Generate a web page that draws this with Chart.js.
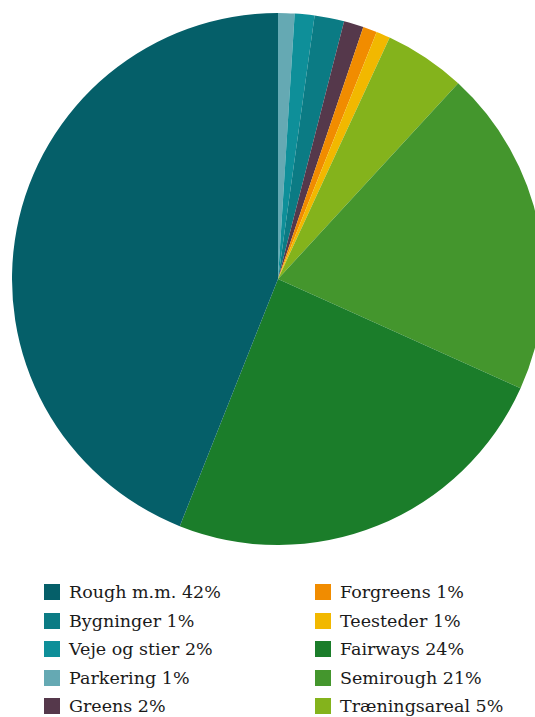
<!DOCTYPE html>
<html lang="da">
<head>
<meta charset="utf-8">
<style>
  html, body { margin: 0; padding: 0; background: #fff; overflow: hidden; width: 535px; height: 717px; }
  #wrap { position: absolute; left: 12px; top: 13px; width: 532px; height: 532px; }
  #legend { position: absolute; left: 44px; top: 578px; display: grid;
            grid-template-columns: 271px 220px; grid-auto-flow: column; grid-template-rows: repeat(5, 28.5px);
            font-family: "DejaVu Serif", serif; font-size: 17.5px; color: #1a1a1a; }
  .item { display: flex; align-items: center; white-space: nowrap; }
  .box { width: 16px; height: 16px; margin-right: 9px; flex: none; }
</style>
</head>
<body>
<div id="wrap"><canvas id="myChart"></canvas></div>
<div id="legend"></div>

<script src="https://cdn.jsdelivr.net/npm/chart.js"></script>
<script>
    // slices, clockwise from 12 o'clock
    var labels = ['Parkering', 'Veje og stier', 'Bygninger', 'Greens', 'Forgreens',
                  'Teesteder', 'Træningsareal', 'Semirough', 'Fairways', 'Rough m.m.'];
    var values = [1.0, 1.2, 1.8, 1.2, 0.85, 0.85, 4.95, 19.9, 24.3, 44.0];
    var colors = ['#65a9b3', '#0e8f99', '#0b7b84', '#55384b', '#f18c00',
                  '#f2b800', '#84b31c', '#44962d', '#1b7d2a', '#055f69'];

    // legend order and printed percentages
    var legendOrder = ['Rough m.m.', 'Bygninger', 'Veje og stier', 'Parkering', 'Greens',
                       'Forgreens', 'Teesteder', 'Fairways', 'Semirough', 'Træningsareal'];
    var legendPct = [42, 1, 2, 1, 2, 1, 1, 24, 21, 5];

    var myChart = new Chart(document.getElementById('myChart'), {
        type: 'pie',
        data: {
            labels: labels,
            datasets: [{
                data: values,
                backgroundColor: colors,
                borderWidth: 0
            }]
        },
        options: {
            responsive: true,
            maintainAspectRatio: false,
            animation: false,
            plugins: {
                legend: { display: false },
                tooltip: { enabled: false }
            }
        }
    });

    var legend = document.getElementById('legend');
    legendOrder.forEach(function (name, i) {
        var idx = labels.indexOf(name);
        var item = document.createElement('div');
        item.className = 'item';
        var box = document.createElement('span');
        box.className = 'box';
        box.style.background = colors[idx];
        var txt = document.createElement('span');
        txt.textContent = name + ' ' + legendPct[i] + '%';
        item.appendChild(box);
        item.appendChild(txt);
        legend.appendChild(item);
    });
</script>
</body>
</html>
